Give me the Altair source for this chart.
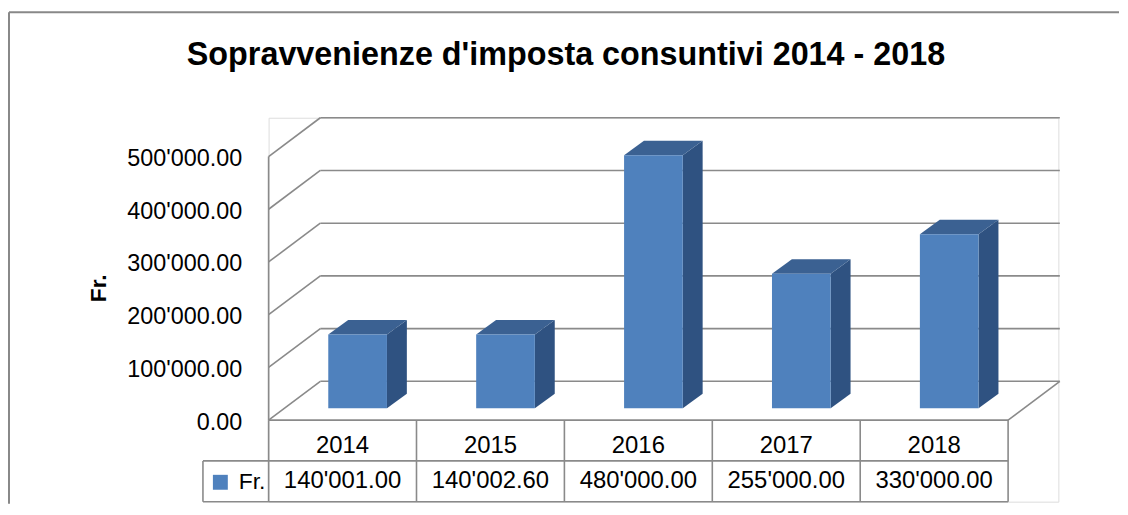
import altair as alt
import pandas as pd

# ---------------- data ----------------
years = ["2014", "2015", "2016", "2017", "2018"]
values = [140001.00, 140002.60, 480000.00, 255000.00, 330000.00]
series_name = "Fr."
y_ticks = [0, 100000, 200000, 300000, 400000, 500000]
title_text = "Sopravvenienze d'imposta consuntivi  2014 - 2018"

# ---------------- layout / style constants ----------------
FONT = "Liberation Sans"
FRONT = "#4F81BD"
TOP = "#3B6192"
SIDE = "#2F5281"
LINE = "#8A8A8A"

COL_PX = 148.7            # pixels per category column
V_PER_PX = 100000 / 53.0  # value units per pixel


def px_x(p):
    return p / COL_PX


def px_y(p):
    return p * V_PER_PX


PLOT_W = 794
PLOT_H = 386
Y_MAX = px_y(421 - 117)
Y_MIN = -px_y(503 - 421)
X_MAX = px_x(PLOT_W)
N = len(years)

WALL_DX, WALL_DY = px_x(52), px_y(39)
BAR_L, BAR_W, BAR_BASE = px_x(60), px_x(59), px_y(12)
DEP_DX, DEP_DY = px_x(20), px_y(14.5)
ROW_MID = -px_y(41)
CELL_L = -px_x(66)
YEAR_Y = -px_y(26)
VAL_Y = -px_y(61.5)

xs = alt.Scale(domain=[0, X_MAX], nice=False, zero=False)
ys = alt.Scale(domain=[Y_MIN, Y_MAX], nice=False, zero=False)
Y_AX = alt.Axis(
    values=y_ticks,
    labelExpr="replace(format(datum.value, ',.2f'), ',', \"'\")",
    labelPadding=27, labelFontSize=23.5, labelFont=FONT, labelColor="black",
    labelFontWeight="normal",
    labelOffset=2, domain=False, ticks=False, grid=False,
    title="Fr.", titleFont=FONT, titleFontSize=23, titleFontWeight="bold",
    titleColor="black", titleX=-171, titleY=171, titleAngle=270,
    titleAlign="center", titleBaseline="middle",
)


def X(f):
    return alt.X(f, type="quantitative", scale=xs, axis=None)


def Y(f):
    return alt.Y(f, type="quantitative", scale=ys, axis=Y_AX)


# ---------------- wall / floor / table lines ----------------
segs = []
for t in y_ticks:
    segs.append(dict(x=0, x2=WALL_DX, y=t, y2=t + WALL_DY))            # left wall
    segs.append(dict(x=WALL_DX, x2=N + WALL_DX, y=t + WALL_DY, y2=t + WALL_DY))  # back wall
segs.append(dict(x=0, x2=0, y=0, y2=y_ticks[-1]))
segs.append(dict(x=0, x2=N, y=0, y2=0))
segs.append(dict(x=N, x2=N + WALL_DX, y=0, y2=WALL_DY))
grid_df = pd.DataFrame(segs)

tsegs = []
for i in range(N + 1):
    tsegs.append(dict(x=i, x2=i, y=0, y2=Y_MIN))
tsegs.append(dict(x=CELL_L, x2=N, y=ROW_MID, y2=ROW_MID))
tsegs.append(dict(x=CELL_L, x2=N, y=Y_MIN, y2=Y_MIN))
tsegs.append(dict(x=CELL_L, x2=CELL_L, y=ROW_MID, y2=Y_MIN))
table_df = pd.DataFrame(tsegs)

grid = alt.Chart(grid_df).mark_rule(color=LINE, strokeWidth=1.6).encode(
    x=X("x"), x2="x2", y=Y("y"), y2="y2")
table = alt.Chart(table_df).mark_rule(color=LINE, strokeWidth=1.6).encode(
    x=X("x"), x2="x2", y=Y("y"), y2="y2")

# ---------------- bars ----------------
bars_df = pd.DataFrame({"year": years, "value": values, "i": range(N)})
bars_df["series"] = series_name
bars_df["L"] = bars_df["i"] + BAR_L
bars_df["R"] = bars_df["L"] + BAR_W
bars_df["b"] = BAR_BASE
bars_df["t"] = BAR_BASE + bars_df["value"]

front = alt.Chart(bars_df).mark_bar(stroke=None).encode(
    x=X("L"), x2="R", y=Y("b"), y2="t",
    color=alt.Color("series:N", scale=alt.Scale(range=[FRONT]),
                    legend=alt.Legend(orient="none", legendX=-60, legendY=355,
                                      title=None, symbolType="square",
                                      symbolSize=225, symbolStrokeWidth=0,
                                      labelFont=FONT, labelFontSize=23,
                                      labelColor="black", labelOffset=7,
                                      padding=0)),
)

side_rows, top_rows = [], []
for _, r in bars_df.iterrows():
    side_rows.append(dict(year=r.year, x=r.R, lo=r.b, hi=r.t))
    side_rows.append(dict(year=r.year, x=r.R + DEP_DX, lo=r.b + DEP_DY, hi=r.t + DEP_DY))
    top_rows.append(dict(year=r.year, x=r.L, lo=r.t, hi=r.t))
    top_rows.append(dict(year=r.year, x=r.L + DEP_DX, lo=r.t, hi=r.t + DEP_DY))
    top_rows.append(dict(year=r.year, x=r.R, lo=r.t, hi=r.t + DEP_DY))
    top_rows.append(dict(year=r.year, x=r.R + DEP_DX, lo=r.t + DEP_DY, hi=r.t + DEP_DY))

side = alt.Chart(pd.DataFrame(side_rows)).mark_area(color=SIDE, interpolate="linear").encode(
    x=X("x"), y=Y("lo"), y2="hi", detail="year:N")
top = alt.Chart(pd.DataFrame(top_rows)).mark_area(color=TOP, interpolate="linear").encode(
    x=X("x"), y=Y("lo"), y2="hi", detail="year:N")

# ---------------- data table text ----------------
txt_df = bars_df[["year", "value", "i"]].copy()
txt_df["xc"] = txt_df["i"] + 0.5
txt_df["yy"] = YEAR_Y
txt_df["vy"] = VAL_Y

year_txt = alt.Chart(txt_df).mark_text(font=FONT, fontSize=24, color="black",
                                       baseline="middle", align="center").encode(
    x=X("xc"), y=Y("yy"), text="year:N")
val_txt = alt.Chart(txt_df).transform_calculate(
    lab="replace(format(datum.value, ',.2f'), ',', \"'\")"
).mark_text(font=FONT, fontSize=24, color="black", baseline="middle", align="center").encode(
    x=X("xc"), y=Y("vy"), text="lab:N")

# ---------------- outer frame & title ----------------
one = pd.DataFrame({"k": [0]})
frame_left = alt.Chart(one).mark_rule(color="#888888", strokeWidth=2).encode(
    x=alt.value(-261), y=alt.value(-106), y2=alt.value(388))
frame_top = alt.Chart(one).mark_rule(color="#888888", strokeWidth=2).encode(
    x=alt.value(-261), x2=alt.value(855), y=alt.value(-106))
title = alt.Chart(one).mark_text(font=FONT, fontSize=32.5, fontWeight="bold", color="black",
                                 align="center", baseline="alphabetic").encode(
    x=alt.value(299), y=alt.value(-53), text=alt.value(title_text))

chart = alt.layer(
    grid, side, top, front, table, year_txt, val_txt, frame_left, frame_top, title
).properties(
    width=PLOT_W, height=PLOT_H,
    padding={"left": 0, "top": 2, "right": 0, "bottom": 0},
).configure_view(stroke=None).configure(background="white")

chart.save("out.html", embed_options={"renderer": "svg", "actions": False})
